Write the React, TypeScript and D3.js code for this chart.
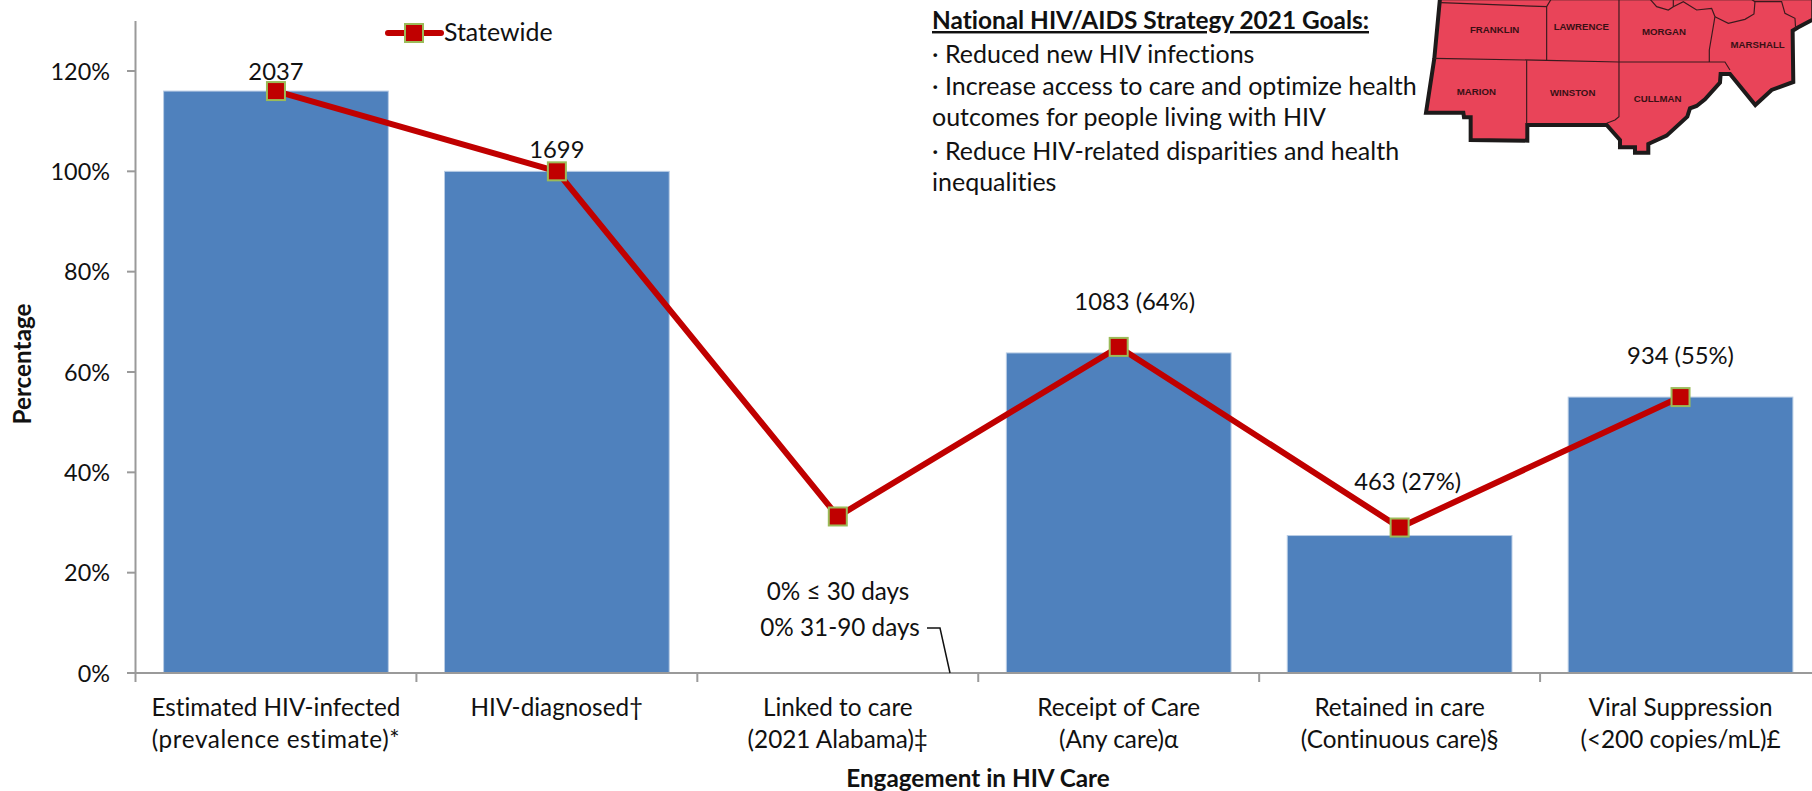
import React from "react";
import * as d3 from "d3";

const categories = ["c1", "c2", "c3", "c4", "c5", "c6"];
const categoryLines = [
  ["Estimated HIV-infected", "(prevalence estimate)*"],
  ["HIV-diagnosed†"],
  ["Linked to care", "(2021 Alabama)‡"],
  ["Receipt of Care", "(Any care)α"],
  ["Retained in care", "(Continuous care)§"],
  ["Viral Suppression", "(<200 copies/mL)£"],
];
const barValues = [116, 100, 0, 63.8, 27.4, 55];
const lineValues = [116, 100, 31.2, 65, 29, 55];
const pointLabels = ["2037", "1699", "", "1083 (64%)", "463 (27%)", "934 (55%)"];
const labelDy = [-11, -13, 0, -37, -38, -33.5];
const labelDx = [0, 0, 0, 16, 8, 0];
const yTicks = [0, 20, 40, 60, 80, 100, 120];
const goals = [
  "· Reduced new HIV infections",
  "· Increase access to care and optimize health",
  "outcomes for people living with HIV",
  "· Reduce HIV-related disparities and health",
  "inequalities",
];
const goalBaselines = [63, 95, 126, 160, 191];
const counties = [
  { name: "FRANKLIN", x: 284, y: 86 },
  { name: "LAWRENCE", x: 544, y: 77 },
  { name: "MORGAN", x: 792, y: 92 },
  { name: "MARSHALL", x: 1073, y: 131 },
  { name: "MARION", x: 229, y: 273 },
  { name: "WINSTON", x: 518, y: 276 },
  { name: "CULLMAN", x: 773, y: 295 },
];
const mapOutline =
  "M120,-5 L103,175 L78,338 L190,338 L192,352 L212,352 L212,420 L382,422 L382,375 L620,375 L660,420 L660,442 L705,442 L705,458 L745,458 L745,432 L800,407 L862,350 L870,325 L890,318 L915,298 L960,248 L962,222 L990,222 L1066,315 L1115,270 L1180,246 L1178,92 L1195,82 L1240,58 L1240,-5 Z";
const mapInner = [
  "M122,8 L440,20 L455,-5",
  "M103,175 L440,181 L657,186 L975,186 L990,210",
  "M440,20 L440,181",
  "M657,-5 L657,350 L645,360 L620,370",
  "M380,181 L380,372",
  "M928,186 L928,150 L945,50 L935,25 L890,30 L850,5 L820,20 L805,30 L770,20 L748,-5",
  "M945,50 L985,70 L1035,58 L1062,42 L1065,5 L1145,5 L1155,40 L1185,55 L1187,85",
  "M820,20 L820,-5",
  "M1065,5 L1050,-5",
];

const FONT = "Lato, 'Noto Sans', sans-serif";
const TEXT = "#111";
const FS = 24.3;
const x = d3.scaleBand<string>().domain(categories).range([135.5, 1821]).paddingInner(0.2).paddingOuter(0.1);
const step = x.step();
const bandTick = (i: number) => 135.5 + i * step;
const y = d3.scaleLinear().domain([0, 120]).range([673, 71]);
const cx = (i: number) => (x(categories[i]) as number) + x.bandwidth() / 2;
const line = d3
  .line<number>()
  .x((_, i) => cx(i))
  .y((d) => y(d));
const axisColor = "#9a9a9a";

function Marker({ px, py }: { px: number; py: number }) {
  return <rect x={px - 9} y={py - 9} width={18} height={18} fill="#c00000" stroke="#9bbb59" strokeWidth={2} />;
}

export default function App() {
  return (
    <svg
      width={1812}
      height={791}
      style={{ position: "absolute", left: 0, top: 0, display: "block", fontVariantLigatures: "none" }}
      fontFamily={FONT}
    >
      <rect width={1812} height={791} fill="#fff" />

      {categories.map((c, i) =>
        barValues[i] > 0 ? (
          <rect
            key={c}
            x={x(c)}
            y={y(barValues[i])}
            width={x.bandwidth()}
            height={y(0) - y(barValues[i])}
            fill="#4f81bd"
            stroke="#b9cde5"
            strokeWidth={1}
          />
        ) : null
      )}

      <line x1={135.5} x2={135.5} y1={21} y2={673} stroke={axisColor} strokeWidth={2} />
      <line x1={127} x2={1812} y1={673} y2={673} stroke={axisColor} strokeWidth={2} />
      {yTicks.map((t) => (
        <g key={t}>
          <line x1={127} x2={135.5} y1={y(t)} y2={y(t)} stroke={axisColor} strokeWidth={2} />
          <text x={110} y={y(t) + 8.5} textAnchor="end" fontSize={23.4} fill={TEXT}>
            {t}%
          </text>
        </g>
      ))}
      {d3.range(0, 7).map((i) =>
        bandTick(i) < 1812 ? (
          <line key={i} x1={bandTick(i)} x2={bandTick(i)} y1={673} y2={682} stroke={axisColor} strokeWidth={2} />
        ) : null
      )}

      {categoryLines.map((ls, i) =>
        ls.map((l, j) => (
          <text
            key={l}
            x={cx(i)}
            y={716 + j * 32}
            textAnchor="middle"
            fontSize={FS}
            fill={TEXT}
            letterSpacing={i === 0 && j === 1 ? 0.6 : 0}
          >
            {l}
          </text>
        ))
      )}

      <text x={978} y={787} textAnchor="middle" fontSize={FS} fontWeight={700} fill={TEXT}>
        Engagement in HIV Care
      </text>
      <text
        transform="translate(31,364) rotate(-90)"
        textAnchor="middle"
        fontSize={FS}
        fontWeight={700}
        fill={TEXT}
      >
        Percentage
      </text>

      <path d={line(lineValues) as string} fill="none" stroke="#c00000" strokeWidth={6} />
      {lineValues.map((v, i) => (
        <Marker key={i} px={cx(i)} py={y(v)} />
      ))}
      {pointLabels.map((l, i) =>
        l ? (
          <text
            key={i}
            x={cx(i) + labelDx[i]}
            y={y(lineValues[i]) + labelDy[i]}
            textAnchor="middle"
            fontSize={23.8}
            fill={TEXT}
          >
            {l}
          </text>
        ) : null
      )}

      <line x1={388} x2={441} y1={33} y2={33} stroke="#c00000" strokeWidth={6} strokeLinecap="round" />
      <Marker px={414} py={33} />
      <text x={444} y={41} fontSize={FS + 0.6} fill={TEXT}>
        Statewide
      </text>

      <text x={838} y={600} textAnchor="middle" fontSize={FS} fill={TEXT}>
        0% ≤ 30 days
      </text>
      <text x={840} y={636} textAnchor="middle" fontSize={FS} fill={TEXT}>
        0% 31-90 days
      </text>
      <path d="M927,628 L940,628 L950,673" fill="none" stroke="#111" strokeWidth={1.5} />

      <text x={932} y={29} fontSize={FS + 0.1} fontWeight={700} fill={TEXT} textDecoration="underline">
        National HIV/AIDS Strategy 2021 Goals:
      </text>
      {goals.map((g, i) => (
        <text key={g} x={932} y={goalBaselines[i]} fontSize={25} fill={TEXT}>
          {g}
        </text>
      ))}

      <g transform="translate(1400,0) scale(0.3333)">
        <path d={mapOutline} fill="#e94459" stroke="#1d1a1a" strokeWidth={12} strokeLinejoin="miter" />
        {mapInner.map((d) => (
          <path key={d} d={d} fill="none" stroke="#3a1a1e" strokeWidth={3.5} />
        ))}
        {counties.map((c) => (
          <text
            key={c.name}
            x={c.x}
            y={c.y + 12}
            textAnchor="middle"
            fontSize={29}
            fontWeight={700}
            fontFamily="'Liberation Sans Narrow', 'Liberation Sans', sans-serif"
            fill="#3a1015"
          >
            {c.name}
          </text>
        ))}
      </g>
    </svg>
  );
}
